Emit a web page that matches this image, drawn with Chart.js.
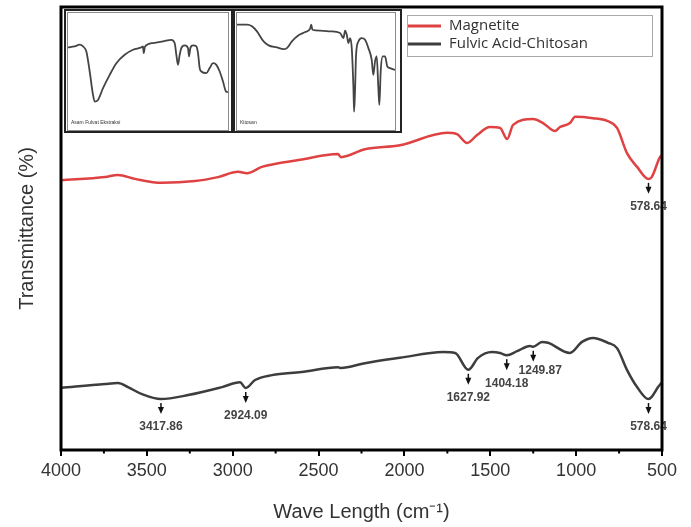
<!DOCTYPE html>
<html>
<head>
<meta charset="utf-8">
<script src="https://cdn.jsdelivr.net/npm/chart.js@4.4.0/dist/chart.umd.min.js"></script>
<style>
    body { margin: 0; background: #fff; }
    #wrap { position: relative; width: 691px; height: 527px; }
    .inset { position: absolute; top: 9px; width: 169px; height: 124px; border: 2px solid #222; box-sizing: border-box; background: #fff; }
    .inset canvas { display: block; }
</style>
</head>
<body>
<div id="wrap">
    <canvas id="myChart" width="691" height="527"></canvas>
    <div class="inset" style="left:64px"><canvas id="inset1" width="165" height="120"></canvas></div>
    <div class="inset" style="left:233px"><canvas id="inset2" width="165" height="120"></canvas></div>
</div>
<script>
// main spectra (wavenumber cm-1 / transmittance, arbitrary units)
var waveMag = [4000, 3744, 3668, 3569, 3412, 3220, 3086, 2969, 2917, 2830, 2608, 2387, 2370, 2230, 2026,
    1752, 1694, 1635, 1577, 1502, 1443, 1402, 1367, 1251, 1193, 1123, 1094, 1036, 1006, 902, 820, 762,
    704, 645, 579, 560, 512, 500];
var transMag = [60.9, 61.6, 62.1, 61.2, 60.3, 60.7, 61.6, 62.8, 62.5, 63.9, 65.5, 66.8, 66.1, 67.9, 68.8,
    71.6, 71.3, 69.3, 71.1, 72.9, 72.7, 70.2, 73.4, 74.7, 73.8, 72.0, 72.9, 73.8, 75.2, 74.9, 74.3, 72.7,
    67.0, 63.9, 61.2, 61.6, 66.1, 66.6];

var waveFac = [4000, 3744, 3668, 3610, 3528, 3418, 3260, 3062, 2958, 2924, 2870, 2771, 2600, 2387, 2370,
    2230, 2026, 1775, 1705, 1628, 1571, 1490, 1443, 1404, 1344, 1269, 1250, 1199, 1164, 1036, 966, 902,
    815, 762, 704, 645, 579, 560, 523, 500];
var transFac = [14.0, 14.9, 15.1, 14.2, 12.6, 11.5, 12.4, 14.2, 15.3, 14.0, 15.8, 16.9, 17.6, 18.7, 18.5,
    19.6, 20.8, 22.1, 21.9, 18.1, 20.8, 22.1, 21.9, 21.4, 22.3, 23.5, 23.3, 24.4, 24.2, 21.9, 24.4, 25.3,
    24.2, 23.0, 18.1, 14.2, 11.5, 12.0, 14.2, 15.3];

var peaksMag = [578.64];
var peaksFac = [3417.86, 2924.09, 1627.92, 1404.18, 1249.87, 578.64];

var labelMag = "Magnetite";
var labelFac = "Fulvic Acid-Chitosan";

var xMin = 500, xMax = 4000, xStep = 500, xMinorStep = 250;

// inset spectra
var waveFulvat = [4000, 3850, 3737, 3662, 3587, 3512, 3437, 3400, 3325, 3212, 3062, 2912, 2725, 2537, 2350,
    2312, 2297, 2267, 2087, 1862, 1675, 1600, 1562, 1525, 1487, 1450, 1375, 1300, 1277, 1247, 1187, 1112,
    1075, 1037, 1000, 887, 812, 737, 662, 587, 512, 452, 400];
var transFulvat = [70.6, 71.4, 72.9, 71.4, 67.1, 50, 30, 24.3, 25.7, 35.7, 47.1, 57.1, 64.3, 68.6, 70.6,
    71.4, 65.7, 71.4, 74.3, 75.7, 77.1, 74.3, 64.3, 55.7, 64.3, 70, 72.3, 70, 62.9, 70, 72.3, 71.4,
    65.7, 52.9, 50, 48.6, 52.9, 57.1, 55.7, 50, 41.4, 33.4, 32.3];

var waveKitosan = [4000, 3773, 3659, 3545, 3394, 3280, 3091, 2939, 2863, 2749, 2598, 2446, 2333, 2310, 2280,
    2105, 1878, 1651, 1575, 1537, 1499, 1461, 1423, 1385, 1347, 1332, 1309, 1287, 1234, 1158, 1082, 1006,
    931, 893, 855, 817, 779, 756, 726, 680, 627, 574, 514, 400];
var transKitosan = [90, 90, 88.6, 84.3, 75.7, 72.3, 70.6, 69.1, 70, 75.7, 80.9, 83.7, 86.6, 90, 85.7,
    84.9, 84.3, 82.9, 78.6, 84.9, 81.4, 74.3, 78.6, 70, 35.7, 15.7, 35.7, 64.3, 75.7, 78.6, 77.1, 70,
    60, 47.1, 58.6, 62.9, 35.7, 21.4, 50, 62.9, 62.9, 54.3, 52.9, 51.4];

var captionFulvat = "Asam Fulvat Ekstraksi";
var captionKitosan = "Kitosan";

var colorScheme = {
    red: "rgb(222, 66, 66)",
    gray: "#3d3d3f",
    text: "#333",
};

const list2chart = (_x, _y) => {
    var data = [];
    for (var i = 0; i < _x.length; i++) {
        data.push({ x: _x[i], y: _y[i] });
    }
    return data;
};

function valueAt(data, x) {
    for (var i = 0; i < data.length - 1; i++) {
        var a = data[i], b = data[i + 1];
        if (x <= a.x && x >= b.x) {
            var t = (a.x - x) / (a.x - b.x);
            return a.y + (b.y - a.y) * t;
        }
    }
    return data[data.length - 1].y;
}

// frame around the plot + minor ticks on x
var frame = {
    id: "frame",
    afterDraw: function (chart) {
        var ctx = chart.ctx, a = chart.chartArea, xs = chart.scales.x;
        ctx.save();
        ctx.strokeStyle = "#000";
        ctx.lineWidth = 2;
        for (var v = xMin + xMinorStep; v < xMax; v += xStep) {
            var px = xs.getPixelForValue(v);
            ctx.beginPath();
            ctx.moveTo(px, a.bottom);
            ctx.lineTo(px, a.bottom + 3.5);
            ctx.stroke();
        }
        ctx.lineWidth = 3;
        ctx.strokeRect(a.left, a.top, a.right - a.left, a.bottom - a.top);
        ctx.restore();
    }
};

// boxed legend in the top right corner
var boxLegend = {
    id: "boxLegend",
    afterDraw: function (chart) {
        var ctx = chart.ctx;
        var x0 = 407, y0 = 15, w = 245, h = 41;
        ctx.save();
        ctx.strokeStyle = "#aaa";
        ctx.lineWidth = 1;
        ctx.strokeRect(x0 + 0.5, y0 + 0.5, w, h);
        ctx.font = '15px "Open Sans", "Liberation Sans", sans-serif';
        ctx.textBaseline = "middle";
        chart.data.datasets.forEach(function (ds, i) {
            var y = y0 + 11 + i * 18;
            ctx.strokeStyle = ds.borderColor;
            ctx.lineWidth = 3;
            ctx.beginPath();
            ctx.moveTo(x0 + 1, y);
            ctx.lineTo(x0 + 34, y);
            ctx.stroke();
            ctx.fillStyle = colorScheme.text;
            ctx.fillText(ds.label, x0 + 42, y);
        });
        ctx.restore();
    }
};

// arrows + peak numbers under the curves
var peakMarks = {
    id: "peakMarks",
    afterDatasetsDraw: function (chart) {
        var ctx = chart.ctx, xs = chart.scales.x, ys = chart.scales.y;
        ctx.save();
        ctx.font = 'bold 12px "Liberation Sans", Arial, sans-serif';
        ctx.textAlign = "center";
        ctx.textBaseline = "middle";
        chart.data.datasets.forEach(function (ds) {
            var prev = null;
            (ds.peaks || []).forEach(function (p) {
                var px = xs.getPixelForValue(p);
                var py = ys.getPixelForValue(valueAt(ds.data, p));
                ctx.fillStyle = "#111";
                ctx.fillRect(px - 0.75, py + 4, 1.5, 5);
                ctx.beginPath();
                ctx.moveTo(px - 3, py + 8);
                ctx.lineTo(px + 3, py + 8);
                ctx.lineTo(px, py + 15);
                ctx.closePath();
                ctx.fill();
                var lx = px, ly = py + 28;
                // keep neighbouring numbers from running into each other
                if (prev && Math.abs(lx - prev.x) < 48 && Math.abs(ly - prev.y) < 14) {
                    ly = prev.y - 13;
                    lx = px + 7;
                }
                ctx.fillStyle = "#444";
                ctx.fillText(p.toFixed(2), lx, ly);
                prev = { x: lx, y: ly };
            });
        });
        ctx.restore();
    }
};

function init_chart() {
    var ctx = document.getElementById("myChart").getContext("2d");
    window.myChart = new Chart(ctx, {
        type: "line",
        data: {
            datasets: [
                {
                    label: labelMag,
                    borderColor: colorScheme.red,
                    backgroundColor: colorScheme.red,
                    borderWidth: 2.5,
                    pointRadius: 0,
                    fill: false,
                    cubicInterpolationMode: "monotone",
                    peaks: peaksMag,
                    data: list2chart(waveMag, transMag),
                },
                {
                    label: labelFac,
                    borderColor: colorScheme.gray,
                    backgroundColor: colorScheme.gray,
                    borderWidth: 2.5,
                    pointRadius: 0,
                    fill: false,
                    cubicInterpolationMode: "monotone",
                    peaks: peaksFac,
                    data: list2chart(waveFac, transFac),
                },
            ],
        },
        options: {
            responsive: false,
            animation: false,
            layout: { padding: { left: 11, top: 7, right: 29, bottom: 0 } },
            plugins: {
                legend: { display: false },
                tooltip: { enabled: false },
            },
            scales: {
                x: {
                    type: "linear",
                    reverse: true,
                    min: xMin,
                    max: xMax,
                    ticks: {
                        stepSize: xStep,
                        color: colorScheme.text,
                        padding: 4,
                        maxRotation: 0,
                        callback: function (v) { return String(v); },
                        font: { size: 18, family: '"Liberation Sans", Arial, sans-serif' },
                    },
                    grid: { display: true, drawOnChartArea: false, drawTicks: true, tickLength: 6, lineWidth: 2, color: "#000" },
                    border: { display: false },
                    title: {
                        display: true,
                        text: "Wave Length (cm\u207B\u00B9)",
                        color: colorScheme.text,
                        padding: { top: 0, bottom: 3 },
                        font: { size: 20, family: '"Liberation Sans", Arial, sans-serif' },
                    },
                    afterFit: function (s) { s.height = 77; },
                },
                y: {
                    min: 0,
                    max: 100,
                    ticks: { display: false },
                    grid: { display: false, drawTicks: false },
                    border: { display: false },
                    title: {
                        display: true,
                        text: "Transmittance (%)",
                        color: colorScheme.text,
                        padding: { top: 4, bottom: 4 },
                        font: { size: 20, family: '"Liberation Sans", Arial, sans-serif' },
                    },
                    afterFit: function (s) { s.width = 50; },
                },
            },
        },
        plugins: [frame, boxLegend, peakMarks],
    });
}

function init_inset(id, waves, vals, caption, padRight) {
    var innerBox = {
        id: "innerBox",
        afterDraw: function (chart) {
            var c = chart.ctx, a = chart.chartArea;
            c.save();
            c.strokeStyle = "#8a8a8a";
            c.lineWidth = 1;
            c.strokeRect(a.left - 0.5, a.top - 0.5, a.right - a.left + 1, a.bottom - a.top + 1);
            c.fillStyle = "#333";
            c.font = '5px "Liberation Sans", Arial, sans-serif';
            c.textBaseline = "middle";
            c.fillText(caption, a.left + 3, a.bottom - 7);
            c.restore();
        }
    };
    new Chart(document.getElementById(id).getContext("2d"), {
        type: "line",
        data: {
            datasets: [{
                borderColor: "#444",
                borderWidth: 1.8,
                pointRadius: 0,
                fill: false,
                cubicInterpolationMode: "monotone",
                data: list2chart(waves, vals),
            }],
        },
        options: {
            responsive: false,
            animation: false,
            layout: { padding: { left: 2, top: 2, right: padRight, bottom: 1 } },
            plugins: { legend: { display: false }, tooltip: { enabled: false } },
            scales: {
                x: { type: "linear", reverse: true, min: 400, max: 4000, display: false },
                y: { min: 0, max: 100, display: false },
            },
        },
        plugins: [innerBox],
    });
}

init_chart();
init_inset("inset1", waveFulvat, transFulvat, captionFulvat, 3);
init_inset("inset2", waveKitosan, transKitosan, captionKitosan, 5);
</script>
</body>
</html>
